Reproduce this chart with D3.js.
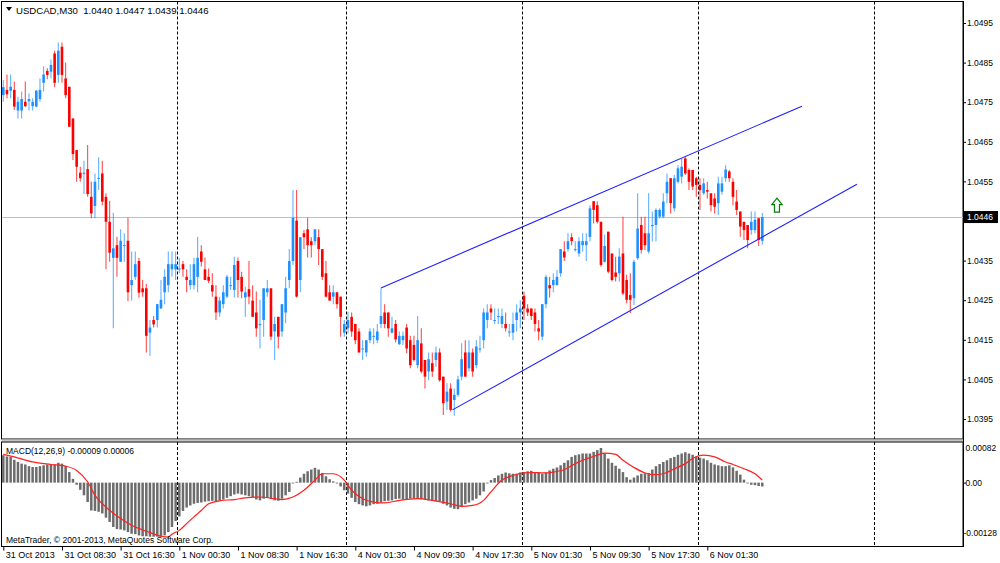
<!DOCTYPE html>
<html>
<head>
<meta charset="utf-8">
<script src="https://cdn.jsdelivr.net/npm/d3@7"></script>
<style>
  body { margin: 0; background: #fff; }
  svg { display: block; font-family: "Liberation Sans", Arial, sans-serif; }
</style>
</head>
<body>
<script>
// USDCAD M30, bars 1..208 (31 Oct 00:30 .. 6 Nov 08:30)
const open = [
  1.04768,1.04781,1.04779,1.04781,1.04729,1.04729,1.04751,1.04752,1.04740,1.04739,
  1.04758,1.04799,1.04829,1.04827,1.04873,1.04819,1.04890,1.04810,1.04789,1.04709,
  1.04629,1.04572,1.04569,1.04581,1.04511,1.04488,1.04558,1.04570,1.04511,1.04448,
  1.04357,1.04389,1.04347,1.04388,1.04400,1.04288,1.04309,1.04349,1.04280,1.04280,
  1.04168,1.04200,1.04200,1.04229,1.04270,1.04288,1.04328,1.04328,1.04328,1.04341,
  1.04309,1.04288,1.04288,1.04309,1.04373,1.04328,1.04309,1.04288,1.04259,1.04219,
  1.04240,1.04259,1.04286,1.04276,1.04349,1.04309,1.04257,1.04278,1.04249,1.04219,
  1.04187,1.04200,1.04270,1.04280,1.04171,1.04208,1.04171,1.04219,1.04301,1.04349,
  1.04451,1.04301,1.04419,1.04429,1.04399,1.04399,1.04409,1.04379,1.04318,1.04270,
  1.04259,1.04270,1.04259,1.04168,1.04179,1.04208,1.04190,1.04171,1.04127,1.04118,
  1.04149,1.04158,1.04149,1.04190,1.04219,1.04219,1.04168,1.04190,1.04139,1.04149,
  1.04181,1.04149,1.04137,1.04086,1.04141,1.04099,1.04070,1.04091,1.04099,1.04118,
  1.04057,1.03994,1.04027,1.03998,1.04011,1.04057,1.04118,1.04078,1.04118,1.04086,
  1.04127,1.04149,1.04200,1.04229,1.04198,1.04208,1.04190,1.04190,1.04169,1.04168,
  1.04200,1.04219,1.04261,1.04229,1.04229,1.04219,1.04179,1.04158,1.04240,1.04288,
  1.04288,1.04288,1.04318,1.04373,1.04379,1.04409,1.04378,1.04368,1.04389,1.04389,
  1.04410,1.04500,1.04490,1.04448,1.04347,1.04423,1.04368,1.04320,1.04318,1.04368,
  1.04301,1.04263,1.04255,1.04356,1.04440,1.04419,1.04373,1.04437,1.04440,1.04461,
  1.04461,1.04520,1.04558,1.04482,1.04549,1.04562,1.04608,1.04579,1.04579,1.04558,
  1.04541,1.04520,1.04528,1.04520,1.04507,1.04495,1.04524,1.04558,1.04575,1.04549,
  1.04499,1.04474,1.04448,1.04440,1.04427,1.04427,1.04457,1.04400
];
const high = [
  1.04806,1.04820,1.04820,1.04802,1.04764,1.04777,1.04802,1.04772,1.04760,1.04781,
  1.04810,1.04841,1.04836,1.04858,1.04880,1.04901,1.04901,1.04850,1.04789,1.04709,
  1.04629,1.04587,1.04602,1.04642,1.04549,1.04570,1.04611,1.04602,1.04520,1.04501,
  1.04471,1.04410,1.04429,1.04419,1.04458,1.04373,1.04373,1.04357,1.04301,1.04291,
  1.04200,1.04210,1.04240,1.04301,1.04328,1.04373,1.04373,1.04373,1.04357,1.04349,
  1.04328,1.04341,1.04357,1.04410,1.04389,1.04358,1.04330,1.04318,1.04288,1.04259,
  1.04288,1.04314,1.04309,1.04360,1.04358,1.04322,1.04284,1.04349,1.04288,1.04272,
  1.04251,1.04280,1.04301,1.04280,1.04208,1.04208,1.04240,1.04309,1.04379,1.04528,
  1.04528,1.04409,1.04427,1.04458,1.04409,1.04429,1.04429,1.04379,1.04349,1.04288,
  1.04288,1.04270,1.04259,1.04200,1.04221,1.04219,1.04190,1.04179,1.04149,1.04149,
  1.04179,1.04179,1.04190,1.04280,1.04240,1.04219,1.04208,1.04200,1.04171,1.04171,
  1.04190,1.04160,1.04160,1.04210,1.04179,1.04099,1.04118,1.04118,1.04133,1.04128,
  1.04057,1.04040,1.04040,1.04027,1.04059,1.04141,1.04149,1.04149,1.04128,1.04149,
  1.04160,1.04229,1.04240,1.04240,1.04229,1.04229,1.04229,1.04219,1.04190,1.04219,
  1.04240,1.04250,1.04272,1.04240,1.04229,1.04229,1.04200,1.04240,1.04314,1.04309,
  1.04318,1.04326,1.04379,1.04399,1.04419,1.04419,1.04399,1.04409,1.04419,1.04419,
  1.04490,1.04500,1.04500,1.04448,1.04415,1.04423,1.04368,1.04360,1.04381,1.04461,
  1.04314,1.04318,1.04352,1.04520,1.04461,1.04461,1.04520,1.04474,1.04482,1.04482,
  1.04520,1.04570,1.04558,1.04566,1.04591,1.04608,1.04612,1.04583,1.04579,1.04562,
  1.04558,1.04558,1.04549,1.04520,1.04520,1.04562,1.04562,1.04591,1.04579,1.04558,
  1.04528,1.04474,1.04448,1.04440,1.04474,1.04474,1.04457,1.04470
];
const low = [
  1.04751,1.04760,1.04760,1.04730,1.04709,1.04709,1.04737,1.04729,1.04729,1.04737,
  1.04751,1.04777,1.04808,1.04810,1.04788,1.04799,1.04799,1.04760,1.04688,1.04604,
  1.04549,1.04549,1.04518,1.04511,1.04457,1.04457,1.04528,1.04490,1.04328,1.04347,
  1.04179,1.04309,1.04347,1.04347,1.04248,1.04249,1.04301,1.04256,1.04259,1.04118,
  1.04109,1.04181,1.04181,1.04229,1.04240,1.04270,1.04309,1.04301,1.04318,1.04309,
  1.04270,1.04277,1.04277,1.04270,1.04335,1.04301,1.04293,1.04259,1.04200,1.04208,
  1.04229,1.04255,1.04276,1.04257,1.04257,1.04255,1.04208,1.04240,1.04208,1.04158,
  1.04128,1.04158,1.04259,1.04149,1.04099,1.04128,1.04158,1.04192,1.04280,1.04339,
  1.04257,1.04270,1.04379,1.04358,1.04358,1.04389,1.04339,1.04301,1.04257,1.04249,
  1.04240,1.04229,1.04158,1.04158,1.04166,1.04158,1.04139,1.04118,1.04099,1.04107,
  1.04141,1.04139,1.04141,1.04179,1.04179,1.04158,1.04166,1.04143,1.04137,1.04137,
  1.04116,1.04078,1.04095,1.04078,1.04065,1.04027,1.04048,1.04057,1.04082,1.04044,
  1.03960,1.03973,1.03969,1.03958,1.04006,1.04048,1.04057,1.04070,1.04057,1.04078,
  1.04118,1.04128,1.04179,1.04200,1.04190,1.04190,1.04179,1.04171,1.04158,1.04149,
  1.04171,1.04179,1.04200,1.04210,1.04200,1.04171,1.04149,1.04149,1.04229,1.04257,
  1.04270,1.04288,1.04309,1.04349,1.04373,1.04389,1.04373,1.04360,1.04373,1.04349,
  1.04398,1.04444,1.04444,1.04335,1.04345,1.04318,1.04297,1.04297,1.04297,1.04263,
  1.04242,1.04217,1.04238,1.04352,1.04368,1.04377,1.04368,1.04398,1.04398,1.04457,
  1.04457,1.04495,1.04469,1.04474,1.04545,1.04545,1.04566,1.04528,1.04528,1.04511,
  1.04478,1.04516,1.04507,1.04474,1.04469,1.04465,1.04516,1.04549,1.04549,1.04490,
  1.04465,1.04410,1.04402,1.04381,1.04415,1.04419,1.04387,1.04390
];
const close = [
  1.04788,1.04770,1.04789,1.04739,1.04751,1.04758,1.04740,1.04758,1.04751,1.04779,
  1.04781,1.04820,1.04819,1.04844,1.04799,1.04880,1.04819,1.04768,1.04688,1.04619,
  1.04587,1.04558,1.04572,1.04518,1.04469,1.04549,1.04559,1.04499,1.04448,1.04370,
  1.04381,1.04357,1.04400,1.04389,1.04270,1.04301,1.04341,1.04269,1.04270,1.04160,
  1.04181,1.04189,1.04240,1.04251,1.04309,1.04341,1.04341,1.04341,1.04330,1.04328,
  1.04301,1.04301,1.04341,1.04357,1.04347,1.04301,1.04299,1.04272,1.04219,1.04249,
  1.04270,1.04309,1.04288,1.04339,1.04301,1.04272,1.04270,1.04259,1.04208,1.04179,
  1.04190,1.04280,1.04280,1.04158,1.04190,1.04158,1.04240,1.04280,1.04349,1.04458,
  1.04259,1.04409,1.04409,1.04389,1.04389,1.04429,1.04379,1.04309,1.04259,1.04249,
  1.04270,1.04240,1.04208,1.04190,1.04200,1.04171,1.04149,1.04118,1.04128,1.04149,
  1.04171,1.04160,1.04171,1.04210,1.04190,1.04179,1.04179,1.04151,1.04160,1.04160,
  1.04128,1.04086,1.04099,1.04149,1.04070,1.04057,1.04101,1.04070,1.04118,1.04048,
  1.03990,1.04019,1.03973,1.04011,1.04050,1.04101,1.04057,1.04118,1.04070,1.04133,
  1.04128,1.04219,1.04219,1.04219,1.04200,1.04210,1.04210,1.04179,1.04171,1.04190,
  1.04219,1.04229,1.04229,1.04219,1.04210,1.04190,1.04171,1.04240,1.04309,1.04280,
  1.04301,1.04309,1.04379,1.04358,1.04399,1.04399,1.04379,1.04399,1.04399,1.04399,
  1.04482,1.04478,1.04448,1.04339,1.04387,1.04322,1.04301,1.04309,1.04360,1.04267,
  1.04251,1.04251,1.04347,1.04431,1.04377,1.04389,1.04419,1.04440,1.04478,1.04478,
  1.04499,1.04549,1.04495,1.04558,1.04583,1.04587,1.04570,1.04549,1.04537,1.04541,
  1.04528,1.04545,1.04524,1.04490,1.04486,1.04545,1.04545,1.04580,1.04558,1.04511,
  1.04478,1.04436,1.04427,1.04402,1.04448,1.04453,1.04402,1.04460
];

// MACD(12,26,9) main line (histogram), one value per bar
const macdHist = [
  0.00065,0.00062,0.00061,0.00054,0.00049,0.00045,0.00043,0.00039,0.00037,0.00037,
  0.00039,0.00041,0.00043,0.00043,0.00043,0.00047,0.00045,0.00039,0.00025,0.00009,
  -0.00005,-0.00017,-0.00030,-0.00046,-0.00066,-0.00067,-0.00069,-0.00073,-0.00083,-0.00093,
  -0.00105,-0.00110,-0.00111,-0.00113,-0.00117,-0.00121,-0.00122,-0.00125,-0.00127,-0.00127,
  -0.00128,-0.00128,-0.00128,-0.00128,-0.00125,-0.00117,-0.00105,-0.00091,-0.00080,-0.00067,
  -0.00059,-0.00054,-0.00050,-0.00048,-0.00047,-0.00045,-0.00044,-0.00043,-0.00044,-0.00043,
  -0.00040,-0.00036,-0.00032,-0.00028,-0.00026,-0.00028,-0.00030,-0.00032,-0.00034,-0.00040,
  -0.00042,-0.00038,-0.00036,-0.00039,-0.00042,-0.00043,-0.00038,-0.00030,-0.00022,-0.00002,
  0.00002,0.00012,0.00021,0.00027,0.00031,0.00035,0.00031,0.00023,0.00015,0.00008,
  0.00003,-0.00002,-0.00009,-0.00018,-0.00026,-0.00036,-0.00046,-0.00051,-0.00054,-0.00056,
  -0.00054,-0.00051,-0.00050,-0.00047,-0.00044,-0.00043,-0.00042,-0.00039,-0.00038,-0.00040,
  -0.00039,-0.00038,-0.00038,-0.00038,-0.00039,-0.00040,-0.00042,-0.00043,-0.00044,-0.00044,
  -0.00050,-0.00054,-0.00059,-0.00062,-0.00063,-0.00058,-0.00051,-0.00047,-0.00042,-0.00038,
  -0.00030,-0.00021,-0.00002,0.00006,0.00011,0.00017,0.00021,0.00024,0.00022,0.00021,
  0.00021,0.00024,0.00025,0.00027,0.00028,0.00025,0.00024,0.00021,0.00024,0.00029,
  0.00033,0.00036,0.00041,0.00047,0.00053,0.00061,0.00065,0.00067,0.00069,0.00069,
  0.00069,0.00073,0.00077,0.00082,0.00069,0.00057,0.00047,0.00040,0.00033,0.00025,
  0.00013,0.00007,0.00012,0.00017,0.00021,0.00022,0.00023,0.00031,0.00039,0.00044,
  0.00049,0.00053,0.00058,0.00061,0.00066,0.00069,0.00072,0.00069,0.00066,0.00062,
  0.00059,0.00057,0.00053,0.00047,0.00043,0.00041,0.00039,0.00039,0.00041,0.00036,
  0.00028,0.00019,0.00007,-0.00001,-0.00005,-0.00006,-0.00008,-0.00009
];

// signal line read at these bars
const signalBars = [1,4,9,14,18,21,24,26,29,33,36,40,44,46,47,49,51,53,55,57,60,64,67,71,75,77,80,83,86,88,91,94,96,99,102,105,109,114,118,123,126,129,132,134,137,140,143,146,148,151,154,157,159,162,165,168,170,173,176,178,181,184,187,189,192,195,198,200,203,206,208];
const signalVals = [0.00067,0.00061,0.00049,0.00043,0.00039,0.00029,0.00002,-0.00030,-0.00058,-0.00085,-0.00101,-0.00115,-0.00127,-0.00129,-0.00122,-0.00113,-0.00097,-0.00081,-0.00066,-0.00050,-0.00043,-0.00040,-0.00036,-0.00034,-0.00038,-0.00040,-0.00034,-0.00018,0.00006,0.00021,0.00021,0.00006,-0.00018,-0.00038,-0.00046,-0.00048,-0.00042,-0.00038,-0.00042,-0.00050,-0.00056,-0.00054,-0.00042,-0.00022,0.00006,0.00017,0.00023,0.00024,0.00023,0.00025,0.00031,0.00045,0.00053,0.00062,0.00070,0.00067,0.00053,0.00036,0.00023,0.00019,0.00021,0.00033,0.00045,0.00057,0.00065,0.00061,0.00049,0.00043,0.00033,0.00021,0.00006];

const priceTicks = [1.0495,1.0485,1.0475,1.0465,1.0455,1.0445,1.0435,1.0425,1.0415,1.0405,1.0395];
const macdTicks = [0.00082, 0.00, -0.00128];
const timeBars = [1,17,33,49,65,81,97,113,129,145,161,177,193];
const timeLabels = ['31 Oct 2013','31 Oct 08:30','31 Oct 16:30','1 Nov 00:30','1 Nov 08:30','1 Nov 16:30',
  '4 Nov 01:30','4 Nov 09:30','4 Nov 17:30','5 Nov 01:30','5 Nov 09:30','5 Nov 17:30','6 Nov 01:30'];
const dayBars = [48, 94, 142, 190, 238];
const lastPrice = 1.0446;
const upperLine = [[104, 1.04281], [218.8, 1.04740]];
const lowerLine = [[123.5, 1.03973], [233.8, 1.04543]];
const arrowAt = [212, 1.04490];

const W = 1000, H = 563;
const right = 963, mainTop = 1.5, mainBot = 439, macdTop = 442, macdBot = 546.5;
const font = '"Liberation Sans", Arial, sans-serif';

const svg = d3.select('body').append('svg')
  .attr('width', W).attr('height', H);

// scales
const x = d3.scaleLinear().domain([1, 208]).range([3.3, 762.3]);
const y = d3.scaleLinear().domain([1.0395, 1.0495]).range([419, 23]);
const ym = d3.scaleLinear().domain([-0.00128, 0.00082]).range([536.7, 448]);

const bars = close.map((c, j) => ({ i: j + 1, o: open[j], h: high[j], l: low[j], c: c }));

svg.append('defs').append('clipPath').attr('id', 'clipMain')
  .append('rect').attr('x', 2).attr('y', 2).attr('width', right - 2).attr('height', mainBot - 2);
svg.select('defs').append('clipPath').attr('id', 'clipMacd')
  .append('rect').attr('x', 2).attr('y', macdTop).attr('width', right - 2).attr('height', macdBot - macdTop);

// panel frames
svg.append('rect').attr('x', 1.5).attr('y', mainTop)
  .attr('width', right - 1.5).attr('height', mainBot - mainTop)
  .attr('fill', 'none').attr('stroke', '#000');
svg.append('rect').attr('x', 1.5).attr('y', mainBot + 0.5)
  .attr('width', right - 1.5).attr('height', macdTop - mainBot - 1)
  .attr('fill', '#c4c4c4');
svg.append('rect').attr('x', 1.5).attr('y', macdTop)
  .attr('width', right - 1.5).attr('height', macdBot - macdTop)
  .attr('fill', 'none').attr('stroke', '#000');

const main = svg.append('g').attr('clip-path', 'url(#clipMain)');
const macd = svg.append('g').attr('clip-path', 'url(#clipMacd)');

// bid line
main.append('line')
  .attr('x1', 2).attr('x2', right)
  .attr('y1', Math.round(y(lastPrice)) + 0.5).attr('y2', Math.round(y(lastPrice)) + 0.5)
  .attr('stroke', '#c0c0c0');

// day separators
[[main, mainTop, mainBot], [macd, macdTop, macdBot]].forEach(([g, t, b]) => {
  g.selectAll(null).data(dayBars).enter().append('line')
    .attr('x1', d => Math.round(x(d + 0.5)) + 0.5)
    .attr('x2', d => Math.round(x(d + 0.5)) + 0.5)
    .attr('y1', t).attr('y2', b)
    .attr('stroke', '#000').attr('stroke-dasharray', '3,2');
});

// candles
const candle = main.append('g').selectAll('g').data(bars).enter().append('g')
  .attr('fill', d => d.c >= d.o ? '#1e90ff' : '#ff0000')
  .attr('stroke', d => d.c >= d.o ? '#1e90ff' : '#ff0000');
candle.append('line')
  .attr('x1', d => x(d.i)).attr('x2', d => x(d.i))
  .attr('y1', d => y(d.h)).attr('y2', d => y(d.l))
  .attr('stroke-width', 1.1).attr('stroke-opacity', 0.7);
candle.append('rect')
  .attr('x', d => x(d.i) - 1.3).attr('width', 2.6)
  .attr('y', d => y(Math.max(d.o, d.c)))
  .attr('height', d => Math.max(1, Math.abs(y(d.o) - y(d.c))))
  .attr('stroke', 'none');

// channel
[upperLine, lowerLine].forEach(seg => {
  main.append('line')
    .attr('x1', x(seg[0][0])).attr('y1', y(seg[0][1]))
    .attr('x2', x(seg[1][0])).attr('y2', y(seg[1][1]))
    .attr('stroke', '#2020ff').attr('stroke-width', 1.1);
});

// buy arrow
main.append('path')
  .attr('transform', `translate(${x(arrowAt[0])},${y(arrowAt[1])})`)
  .attr('d', 'M0,-7 L5.2,-0.5 L2.5,-0.5 L2.5,7 L-2.5,7 L-2.5,-0.5 L-5.2,-0.5 Z')
  .attr('fill', '#fff').attr('stroke', '#008000').attr('stroke-width', 1.2);

// MACD histogram
macd.append('g').selectAll('rect').data(macdHist).enter().append('rect')
  .attr('x', (d, j) => x(j + 1) - 1.25).attr('width', 2.5)
  .attr('y', d => Math.min(ym(d), ym(0)))
  .attr('height', d => Math.max(0.8, Math.abs(ym(d) - ym(0))))
  .attr('fill', '#6c6c6c');

// signal line
const sig = signalBars.map((b, k) => [b, signalVals[k]]);
macd.append('path').datum(sig)
  .attr('fill', 'none').attr('stroke', '#ff2020').attr('stroke-width', 1.2)
  .attr('d', d3.line().x(d => x(d[0])).y(d => ym(d[1])).curve(d3.curveMonotoneX));

// price axis (1.0445 sits under the bid box, only its tick shows)
const gy = svg.append('g').attr('transform', `translate(${right},0)`)
  .call(d3.axisRight(y).tickValues(priceTicks).tickSize(3)
    .tickFormat(d => Math.abs(d - 1.0445) < 1e-6 ? '' : d3.format('.4f')(d)));
gy.select('.domain').remove();
gy.attr('font-family', font).attr('font-size', 8.5);
gy.selectAll('text').attr('x', 4);

// current price box
svg.append('rect').attr('x', right + 1).attr('y', y(lastPrice) - 6)
  .attr('width', 34).attr('height', 12).attr('fill', '#000');
svg.append('text').attr('x', right + 4).attr('y', y(lastPrice) + 3.2)
  .attr('font-family', font).attr('font-size', 8.5).attr('fill', '#fff')
  .text(lastPrice.toFixed(4));

// MACD axis
const gm = svg.append('g').attr('transform', `translate(${right},0)`)
  .call(d3.axisRight(ym).tickValues([0]).tickSize(3).tickFormat(() => ''));
gm.select('.domain').remove();
svg.append('g').selectAll('text').data(macdTicks).enter().append('text')
  .attr('x', d => d < 0 ? right + 0.5 : right + 2.5)
  .attr('y', d => d < 0 ? ym(d) - 1 : ym(d) + 3)
  .attr('font-family', font).attr('font-size', 8.5)
  .text(d => d === 0 ? '0.00' : d.toFixed(5));

// right axis line
svg.append('line').attr('x1', right + 0.5).attr('x2', right + 0.5)
  .attr('y1', 1).attr('y2', macdBot + 0.5).attr('stroke', '#000');

// time axis
const gx = svg.append('g').attr('transform', `translate(0,${macdBot})`)
  .call(d3.axisBottom(x).tickValues(timeBars).tickSize(4).tickFormat((d, k) => timeLabels[k]));
gx.select('.domain').remove();
gx.attr('font-family', font).attr('font-size', 9);
gx.selectAll('text').attr('text-anchor', 'start').attr('x', 2).attr('y', 5.5);

// texts
svg.append('path').attr('d', 'M6,7 L12,7 L9,11 Z').attr('fill', '#000');
svg.append('text').attr('x', 16).attr('y', 13.5)
  .attr('font-family', font).attr('font-size', 9.6)
  .style('white-space', 'pre')
  .text('USDCAD,M30  1.0440 1.0447 1.0439 1.0446');
svg.append('text').attr('x', 6).attr('y', 453.5)
  .attr('font-family', font).attr('font-size', 8.5)
  .text('MACD(12,26,9) -0.00009 0.00006');
svg.append('text').attr('x', 6).attr('y', 543)
  .attr('font-family', font).attr('font-size', 8.5)
  .text('MetaTrader, \u00a9 2001-2013, MetaQuotes Software Corp.');
</script>
</body>
</html>
